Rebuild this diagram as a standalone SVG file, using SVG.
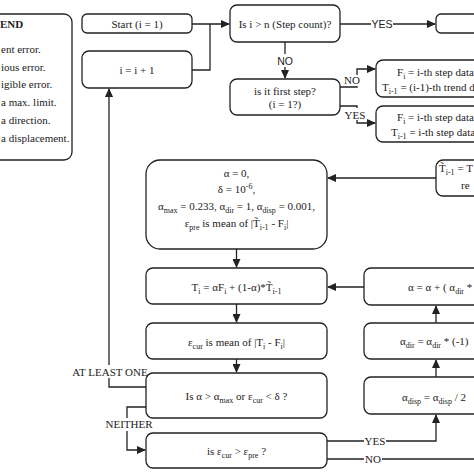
<svg xmlns="http://www.w3.org/2000/svg" width="474" height="474" viewBox="0 0 474 474">
<style>
.b{fill:#fff;stroke:#222;stroke-width:1.3}
.t{font-family:"Liberation Serif","Times New Roman",serif;font-size:11px;fill:#222}
.c{text-anchor:middle}
.s{font-family:"Liberation Sans",Arial,sans-serif;font-size:10.5px;fill:#222}
.l{fill:none;stroke:#222;stroke-width:1.3}
.w{fill:#fff}
</style>
<defs>
<marker id="a" markerWidth="9" markerHeight="8" refX="8" refY="4" orient="auto" markerUnits="userSpaceOnUse">
<path d="M0,0 L9,4 L0,8 z" fill="#222"/>
</marker>
</defs>
<rect width="474" height="474" fill="#fff"/>

<g id="legend">
<rect class="b" x="-10" y="14" width="82" height="146" rx="8"/>
<text class="t" x="0" y="28" font-weight="bold">END</text>
<text class="t" x="1" y="53">ent error.</text>
<text class="t" x="1" y="71">ious error.</text>
<text class="t" x="1" y="88">igible error.</text>
<text class="t" x="1" y="106">a max. limit.</text>
<text class="t" x="1" y="124">a direction.</text>
<text class="t" x="1" y="142">a displacement.</text>
</g>

<g id="connectors">
<path class="l" d="M192,24 H210 M192,70 H210 V24 H229" marker-end="url(#a)"/>
<path class="l" d="M340,24 H435" marker-end="url(#a)"/>
<path class="l" d="M285,42 V78" marker-end="url(#a)"/>
<path class="l" d="M340,87 H357 V69 H375" marker-end="url(#a)"/>
<path class="l" d="M340,106 H357 V123 H375" marker-end="url(#a)"/>
<path class="l" d="M436,178 H328" marker-end="url(#a)"/>
<path class="l" d="M236.5,249 V267" marker-end="url(#a)"/>
<path class="l" d="M236.5,304 V322" marker-end="url(#a)"/>
<path class="l" d="M236.5,359 V372" marker-end="url(#a)"/>
<path class="l" d="M364,287 H328" marker-end="url(#a)"/>
<path class="l" d="M436,323 V306" marker-end="url(#a)"/>
<path class="l" d="M436,377 V360" marker-end="url(#a)"/>
<path class="l" d="M146,387 H109 V89" marker-end="url(#a)"/>
<path class="l" d="M146,407 H127 V450 H145" marker-end="url(#a)"/>
<path class="l" d="M327,441 H436 V415" marker-end="url(#a)"/>
<path class="l" d="M327,459 H474"/>
<rect class="w" x="371" y="17" width="22" height="14"/>
<text class="s c" x="382" y="28">YES</text>
<rect class="w" x="277" y="54" width="16" height="13"/>
<text class="s c" x="285" y="65">NO</text>
<rect class="w" x="345" y="75" width="14" height="11"/>
<text class="t c" x="352" y="84">NO</text>
<rect class="w" x="344" y="108" width="22" height="12"/>
<text class="t c" x="355" y="119">YES</text>
<rect class="w" x="72" y="365" width="75" height="13"/>
<text class="t c" x="110" y="376">AT LEAST ONE</text>
<rect class="w" x="106" y="418" width="46" height="13"/>
<text class="t c" x="129" y="428">NEITHER</text>
<rect class="w" x="364" y="435" width="22" height="12"/>
<text class="t c" x="375" y="445">YES</text>
<rect class="w" x="364" y="453" width="18" height="12"/>
<text class="t c" x="373" y="463">NO</text>
</g>

<g id="start">
<rect class="b" x="82" y="14" width="110" height="19" rx="5"/>
<text class="t c" x="137" y="28">Start (i = 1)</text>
</g>
<g id="increment">
<rect class="b" x="82" y="51" width="110" height="37" rx="7"/>
<text class="t c" x="137" y="74">i = i + 1</text>
</g>
<g id="check-n">
<rect class="b" x="230" y="5" width="110" height="37" rx="7"/>
<text class="t c" x="285" y="28">Is i &gt; n (Step count)?</text>
</g>
<g id="end">
<rect class="b" x="436" y="14" width="60" height="19" rx="5"/>
</g>
<g id="first-step">
<rect class="b" x="230" y="79" width="110" height="36" rx="7"/>
<text class="t c" x="285" y="95">is it first step?</text>
<text class="t c" x="285" y="108">(i = 1?)</text>
</g>
<g id="data-no">
<rect class="b" x="376" y="60" width="120" height="37" rx="7"/>
<text class="t" x="397" y="76">F<tspan font-size="8" dy="3">i</tspan><tspan dy="-3"> = i-th step data.</tspan></text>
<text class="t" x="382" y="91">T<tspan font-size="8" dy="3">i-1</tspan><tspan dy="-3"> = (i-1)-th trend data.</tspan></text>
</g>
<g id="data-yes">
<rect class="b" x="376" y="106" width="120" height="36" rx="7"/>
<text class="t" x="397" y="121">F<tspan font-size="8" dy="3">i</tspan><tspan dy="-3"> = i-th step data.</tspan></text>
<text class="t" x="391" y="136">T<tspan font-size="8" dy="3">i-1</tspan><tspan dy="-3"> = i-th step data.</tspan></text>
</g>
<g id="trend-prev">
<rect class="b" x="436" y="160" width="60" height="36" rx="7"/>
<text class="t" x="439" y="172">T̃<tspan font-size="8" dy="3">i-1</tspan><tspan dy="-3"> = T</tspan></text>
<text class="t" x="461" y="189">re</text>
</g>
<g id="init">
<rect class="b" x="146" y="160" width="181" height="89" rx="14"/>
<text class="t c" x="236.5" y="177">α = 0,</text>
<text class="t c" x="236.5" y="193">δ = 10<tspan font-size="8" dy="-4">-6</tspan><tspan dy="4">,</tspan></text>
<text class="t c" x="236.5" y="210">α<tspan font-size="8" dy="3">max</tspan><tspan dy="-3"> = 0.233, α</tspan><tspan font-size="8" dy="3">dir</tspan><tspan dy="-3"> = 1, α</tspan><tspan font-size="8" dy="3">disp</tspan><tspan dy="-3"> = 0.001,</tspan></text>
<text class="t c" x="236.5" y="227">ε<tspan font-size="8" dy="3">pre</tspan><tspan dy="-3"> is mean of |T̃</tspan><tspan font-size="8" dy="3">i-1</tspan><tspan dy="-3"> - F</tspan><tspan font-size="8" dy="3">i</tspan><tspan dy="-3">|</tspan></text>
</g>
<g id="trend">
<rect class="b" x="146" y="268" width="181" height="36" rx="7"/>
<text class="t c" x="236.5" y="291">T<tspan font-size="8" dy="3">i</tspan><tspan dy="-3"> = αF</tspan><tspan font-size="8" dy="3">i</tspan><tspan dy="-3"> + (1-α)*T̃</tspan><tspan font-size="8" dy="3">i-1</tspan></text>
</g>
<g id="cur-error">
<rect class="b" x="146" y="323" width="181" height="36" rx="7"/>
<text class="t c" x="236.5" y="346">ε<tspan font-size="8" dy="3">cur</tspan><tspan dy="-3"> is mean of |T</tspan><tspan font-size="8" dy="3">i</tspan><tspan dy="-3"> - F</tspan><tspan font-size="8" dy="3">i</tspan><tspan dy="-3">|</tspan></text>
</g>
<g id="stop-check">
<rect class="b" x="146" y="373" width="181" height="45" rx="7"/>
<text class="t c" x="236.5" y="400">Is α &gt; α<tspan font-size="8" dy="3">max</tspan><tspan dy="-3"> or ε</tspan><tspan font-size="8" dy="3">cur</tspan><tspan dy="-3"> &lt; δ ?</tspan></text>
</g>
<g id="compare">
<rect class="b" x="146" y="433" width="181" height="35" rx="7"/>
<text class="t c" x="236.5" y="455">is ε<tspan font-size="8" dy="3">cur</tspan><tspan dy="-3"> &gt; ε</tspan><tspan font-size="8" dy="3">pre</tspan><tspan dy="-3"> ?</tspan></text>
</g>
<g id="alpha-update">
<rect class="b" x="364" y="268" width="140" height="37" rx="7"/>
<text class="t" x="408" y="291">α = α + ( α<tspan font-size="8" dy="3">dir</tspan><tspan dy="-3"> *</tspan></text>
</g>
<g id="dir-flip">
<rect class="b" x="364" y="323" width="140" height="36" rx="7"/>
<text class="t" x="400" y="345">α<tspan font-size="8" dy="3">dir</tspan><tspan dy="-3"> = α</tspan><tspan font-size="8" dy="3">dir</tspan><tspan dy="-3"> * (-1)</tspan></text>
</g>
<g id="disp-half">
<rect class="b" x="364" y="377" width="140" height="37" rx="7"/>
<text class="t" x="402" y="401">α<tspan font-size="8" dy="3">disp</tspan><tspan dy="-3"> = α</tspan><tspan font-size="8" dy="3">disp</tspan><tspan dy="-3"> / 2</tspan></text>
</g>
</svg>
